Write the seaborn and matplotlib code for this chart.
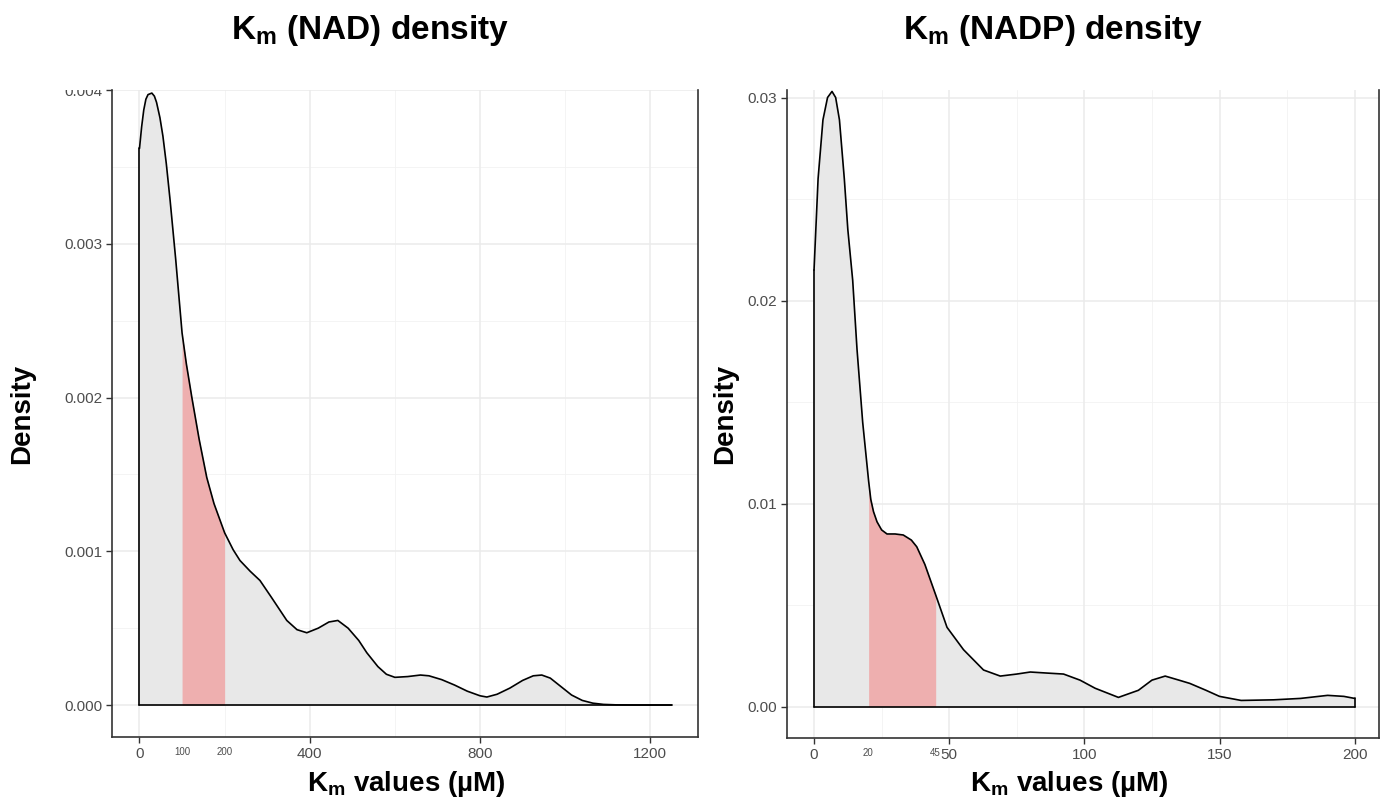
import matplotlib
matplotlib.use("Agg")
import matplotlib.pyplot as plt
import numpy as np
import seaborn as sns
from matplotlib.transforms import Bbox, TransformedBbox

# K_m (NAD) density curve (density x 1000)
nad_km = [0, 5, 10, 15, 20, 29, 35, 40, 48, 55, 63, 72, 85, 100, 110, 123, 140, 158,
          175, 200, 220, 236, 260, 283, 310, 346, 370, 393, 420, 445, 466, 490, 515,
          534, 560, 580, 600, 630, 660, 680, 710, 740, 770, 800, 816, 840, 870, 900,
          925, 945, 965, 990, 1015, 1040, 1065, 1090, 1120, 1160, 1250]
nad_density = [3.62, 3.76, 3.87, 3.94, 3.97, 3.98, 3.96, 3.92, 3.82, 3.70, 3.52, 3.28,
               2.90, 2.42, 2.22, 2.00, 1.73, 1.48, 1.31, 1.12, 1.01, 0.94, 0.87, 0.81,
               0.70, 0.55, 0.49, 0.47, 0.50, 0.54, 0.55, 0.50, 0.42, 0.34, 0.25, 0.20,
               0.18, 0.185, 0.195, 0.19, 0.165, 0.13, 0.09, 0.06, 0.052, 0.07, 0.11,
               0.16, 0.19, 0.195, 0.175, 0.12, 0.065, 0.03, 0.012, 0.004, 0.001, 0.0,
               0.0]
nad_density = [v / 1000 for v in nad_density]
nad_band = (100, 200)
nad_xticks = [0, 100, 200, 400, 800, 1200]
nad_small = [100, 200]
nad_xgrid_major = [0, 400, 800, 1200]
nad_xgrid_minor = [200, 600, 1000]
nad_yticks = [0.000, 0.001, 0.002, 0.003, 0.004]

# K_m (NADP) density curve
nadp_km = [0, 1.5, 3.3, 5, 6.65, 8, 9.4, 11.2, 12.5, 14.3, 15.9, 18, 20.2, 21, 22,
           23.3, 25, 27, 30, 33, 36, 38, 41, 44.2, 45, 49.2, 55.3, 62.7, 68.9, 75, 80,
           86, 92.3, 98.4, 104, 112.6, 120, 125, 129.9, 135, 139, 145, 150, 158, 170,
           180, 190, 196, 200]
nadp_density = [0.0215, 0.026, 0.0289, 0.0300, 0.0303, 0.0300, 0.0289, 0.026, 0.0235,
                0.021, 0.0176, 0.0140, 0.0111, 0.0102, 0.0096, 0.0091, 0.0087, 0.0085,
                0.0085, 0.00845, 0.0082, 0.00787, 0.0070, 0.0058, 0.0055, 0.0039,
                0.0028, 0.0018, 0.0015, 0.0016, 0.0017, 0.00165, 0.0016, 0.0013,
                0.0009, 0.00045, 0.0008, 0.0013, 0.0015, 0.0013, 0.00114, 0.0008,
                0.0005, 0.0003, 0.00033, 0.0004, 0.00055, 0.0005, 0.0004]
nadp_band = (20.2, 45)
nadp_xticks = [0, 20, 45, 50, 100, 150, 200]
nadp_small = [20, 45]
nadp_xgrid_major = [0, 50, 100, 150, 200]
nadp_xgrid_minor = [25, 75, 125, 175]
nadp_yticks = [0.00, 0.01, 0.02, 0.03]

GREY_FILL = "#E8E8E8"
RED_FILL = "#EEAFAF"
TICK_COL = "#4D4D4D"
SPINE_COL = "#333333"

sns.set_theme(style="white")
plt.rcParams["font.family"] = ["Liberation Sans", "DejaVu Sans"]
plt.rcParams["text.color"] = "black"
plt.rcParams["mathtext.fontset"] = "custom"
plt.rcParams["mathtext.rm"] = "Liberation Sans"
plt.rcParams["mathtext.bf"] = "Liberation Sans:bold"

W, H = 1383, 807
fig = plt.figure(figsize=(W / 100, H / 100), dpi=100)


def px_axes(x0, x1, ytop, ybot):
    return fig.add_axes([x0 / W, 1 - ybot / H, (x1 - x0) / W, (ybot - ytop) / H])


ax1 = px_axes(112, 698, 90, 737)
ax2 = px_axes(787, 1379, 90, 738)


def draw_panel(ax, km, dens, band, xticks, small, gmaj, gmin, yticks, yfmt,
               xlim, ylim):
    x = np.asarray(km)
    d = np.asarray(dens)
    ymin = [(a + b) / 2 for a, b in zip(yticks[:-1], yticks[1:])]
    for g in gmin:
        ax.axvline(g, color="#F2F2F2", lw=0.6, zorder=0)
    for g in ymin:
        ax.axhline(g, color="#F2F2F2", lw=0.6, zorder=0)
    for g in gmaj:
        ax.axvline(g, color="#EBEBEB", lw=1.1, zorder=0)
    for g in yticks:
        ax.axhline(g, color="#EBEBEB", lw=1.1, zorder=0)

    ax.fill_between(x, 0, d, color=GREY_FILL, lw=0, zorder=2)
    in_band = (x >= band[0]) & (x <= band[1])
    ax.fill_between(x, 0, d, where=in_band, color=RED_FILL, lw=0, zorder=3)
    sns.lineplot(x=x, y=d, ax=ax, color="black", lw=1.2, zorder=4)
    # close the outline the way geom_density does
    ax.plot([x[0], x[0]], [0, d[0]], color="black", lw=1.2, zorder=4)
    ax.plot([x[-1], x[-1]], [0, d[-1]], color="black", lw=1.2, zorder=4)
    ax.plot([x[0], x[-1]], [0, 0], color="black", lw=1.2, zorder=4)

    ax.set_xlim(*xlim)
    ax.set_ylim(*ylim)
    ax.set_xticks(xticks)
    ax.set_xticklabels([str(t) for t in xticks])
    ax.set_yticks(yticks)
    ax.set_yticklabels([yfmt.format(t) for t in yticks])
    ax.tick_params(axis="both", which="major", direction="out", length=4,
                   width=1.0, color=SPINE_COL, labelcolor=TICK_COL,
                   labelsize=11, pad=3, left=True, bottom=True)
    for t, tick in zip(xticks, ax.xaxis.get_major_ticks()):
        if t in small:
            tick.tick1line.set_visible(False)
            tick.label1.set_fontsize(7)
    for s in ["left", "bottom", "right"]:
        ax.spines[s].set_visible(True)
        ax.spines[s].set_color(SPINE_COL)
        ax.spines[s].set_linewidth(1.2)
    ax.spines["top"].set_visible(False)
    ax.set_xlabel("")
    ax.set_ylabel("")
    ax.grid(False)


draw_panel(ax1, nad_km, nad_density, nad_band, nad_xticks, nad_small,
           nad_xgrid_major, nad_xgrid_minor, nad_yticks, "{:.3f}",
           (-64.6, 1312), (-0.000208, 0.00400))
draw_panel(ax2, nadp_km, nadp_density, nadp_band, nadp_xticks, nadp_small,
           nadp_xgrid_major, nadp_xgrid_minor, nadp_yticks, "{:.2f}",
           (-10, 209), (-0.00155, 0.03037))

# the source image is cropped just above the panels
clip = TransformedBbox(Bbox([[0, 0], [1, 1 - 90 / H]]), fig.transFigure)
for lab in ax1.get_yticklabels():
    lab.set_clip_box(clip)
    lab.set_clip_on(True)

title_kw = dict(fontsize=24, fontweight="bold", ha="center", va="center",
                color="black")
fig.text(370 / W, 1 - 31 / H, r"$\mathbf{K}_\mathbf{m}$ (NAD) density", **title_kw)
fig.text(1053 / W, 1 - 31 / H, r"$\mathbf{K}_\mathbf{m}$ (NADP) density", **title_kw)

lab_kw = dict(fontsize=20, fontweight="bold", ha="center", va="center",
              color="black")
fig.text(406 / W, 1 - 784 / H, r"$\mathbf{K}_\mathbf{m}$ values (µM)", **lab_kw)
fig.text(1069 / W, 1 - 784 / H, r"$\mathbf{K}_\mathbf{m}$ values (µM)", **lab_kw)
fig.text(22 / W, 1 - 414 / H, "Density", rotation=90, **lab_kw)
fig.text(725 / W, 1 - 414 / H, "Density", rotation=90, **lab_kw)

fig.savefig("out.png", dpi=100)
